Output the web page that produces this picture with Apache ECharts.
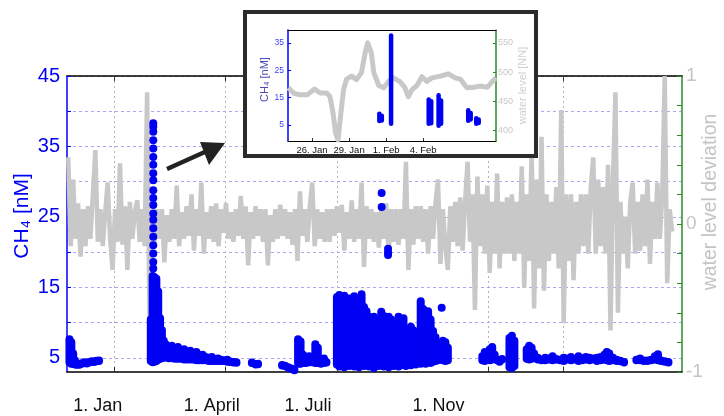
<!DOCTYPE html>
<html style="height: 100%">
<head>
    <meta charset="utf-8">
    <script src="https://cdn.jsdelivr.net/npm/echarts@6/dist/echarts.min.js"></script>
</head>
<body style="height: 100%; margin: 0; background: #fff">
    <div id="main" style="width: 724px; height: 416px;"></div>
    <script type="text/javascript">
        // x values are days counted from 1 Jan
        var monthTicks = [0, 90, 181, 304, 365];
        var monthLabelTicks = [0, 90, 181, 304];
        var monthNames = { 0: '1. Jan', 90: '1. April', 181: '1. Juli', 304: '1. Nov' };

        var ch4GridTicks = [5, 10, 15, 20, 25, 30, 35, 40, 45];
        var ch4LabelTicks = [5, 15, 25, 35, 45];
        var levelGridTicks = [-1, -0.8, -0.6, -0.4, -0.2, 0, 0.2, 0.4, 0.6, 0.8, 1];
        var levelLabelTicks = [-1, 0, 1];

        // water level deviation [day, value]
        var levelDeviation = [
            [-37, 0.45], [-35, -0.15], [-33, 0.3], [-31, -0.1], [-29, 0.14], [-27, -0.22], [-25, 0.1], [-23, -0.15], [-21, 0.12], [-19, -0.1],
            [-17, 0.2], [-15, 0.5], [-13, -0.12], [-11, 0.1], [-9, -0.15], [-7, 0.08], [-5, 0.28], [-3, -0.1], [-1, -0.31], [1, 0.1],
            [3, -0.12], [5, 0.41], [7, -0.14], [9, 0.12], [11, -0.31], [13, 0.15], [15, -0.1], [17, 0.08], [19, 0.16], [21, -0.12],
            [23, 0.1], [25, -0.15], [27, 0.89], [29, -0.67], [31, 0.08], [33, -0.12], [35, 0.1], [37, -0.1], [39, 0.1], [41, -0.26],
            [43, 0.06], [45, -0.12], [47, 0.1], [49, -0.1], [51, 0.26], [53, -0.15], [55, 0.08], [57, -0.1], [59, 0.12], [61, -0.08],
            [63, 0.2], [65, -0.18], [67, 0.1], [69, -0.08], [71, 0.28], [73, -0.2], [75, 0.08], [77, -0.1], [79, 0.12], [81, -0.12],
            [83, 0.14], [85, -0.15], [87, 0.1], [89, -0.06], [91, 0.14], [93, -0.1], [95, 0.08], [97, -0.12], [99, 0.1], [101, -0.08],
            [103, 0.19], [105, -0.1], [107, 0.12], [109, -0.28], [111, 0.08], [113, -0.1], [115, 0.12], [117, -0.08], [119, 0.1], [121, -0.12],
            [123, 0.1], [125, -0.28], [127, 0.06], [129, -0.12], [131, 0.1], [133, -0.1], [135, 0.13], [137, -0.08], [139, 0.1], [141, -0.1],
            [143, 0.08], [145, -0.14], [147, 0.1], [149, -0.25], [151, 0.22], [153, -0.08], [155, 0.1], [157, -0.12], [159, 0.12], [161, 0.28],
            [163, -0.15], [165, 0.1], [167, -0.1], [169, 0.08], [171, -0.12], [173, 0.1], [175, -0.12], [177, 0.1], [179, -0.08], [181, 0.12],
            [183, -0.06], [185, 0.13], [187, -0.18], [189, 0.08], [191, -0.1], [193, 0.16], [195, -0.12], [197, 0.1], [199, -0.1], [201, 0.28],
            [203, -0.29], [205, 0.12], [207, -0.1], [209, 0.1], [211, -0.12], [213, 0.08], [215, -0.16], [217, 0.1], [219, -0.1], [221, 0.14],
            [223, -0.2], [225, 0.1], [227, -0.12], [229, 0.1], [231, -0.14], [233, 0.1], [235, -0.1], [237, 0.42], [239, -0.31], [241, 0.1],
            [243, -0.14], [245, 0.12], [247, -0.1], [249, 0.12], [251, -0.12], [253, 0.1], [255, -0.2], [257, 0.12], [259, -0.1], [261, 0.14],
            [263, 0.3], [265, -0.27], [267, 0.1], [269, -0.15], [271, -0.31], [273, 0.12], [275, -0.12], [277, 0.15], [279, -0.15], [281, 0.18],
            [283, -0.18], [285, 0.15], [287, 0.42], [289, -0.12], [291, 0.2], [293, -0.58], [295, 0.32], [297, -0.15], [299, 0.2], [301, -0.2],
            [303, 0.26], [305, -0.33], [307, 0.15], [309, -0.2], [311, 0.34], [313, -0.3], [315, 0.15], [317, -0.2], [319, 0.18], [321, -0.2],
            [323, 0.2], [325, -0.25], [327, 0.15], [329, -0.2], [331, 0.39], [333, -0.43], [335, 0.2], [337, -0.25], [339, 0.5], [341, -0.57],
            [343, 0.3], [345, -0.3], [347, 0.59], [349, -0.45], [351, 0.2], [353, -0.25], [355, 0.15], [357, -0.2], [359, 0.25], [361, -0.3],
            [363, 0.77], [365, -0.67], [367, 0.2], [369, -0.25], [371, 0.2], [373, -0.38], [375, 0.15], [377, -0.2], [379, 0.2], [381, -0.15],
            [383, 0.2], [385, -0.2], [387, 0.25], [389, 0.45], [391, -0.2], [393, 0.3], [395, -0.15], [397, 0.25], [399, -0.2], [401, 0.4],
            [403, -0.72], [405, 0.3], [407, 0.89], [409, -0.6], [411, 0.15], [413, -0.2], [415, 0.05], [417, -0.3], [419, 0.15], [421, 0.28],
            [423, -0.2], [425, 0.15], [427, -0.18], [429, 0.2], [431, -0.15], [433, 0.3], [435, -0.27], [437, 0.15], [439, -0.1], [441, 0.28],
            [443, -0.1], [445, 0.2], [447, 1.0], [449, -0.4], [451, 0.1], [453, -0.05]
        ];

        // CH4 measurements, dense stretches as [day, lowest, highest] in nM
        var ch4Ranges = [
            [-36, 3.8, 8.2], [-34.5, 3.6, 7.8], [-33, 3.6, 6.2], [-31.5, 3.5, 5.2], [-30, 3.5, 4.6], [-28, 3.6, 4.5], [-26, 3.7, 4.7],
            [-24, 3.8, 4.9], [-22, 3.7, 4.8], [-20, 3.8, 5.0], [-18, 3.9, 5.1], [-16, 3.9, 5.0], [-14, 4.0, 5.1], [-12, 4.0, 5.2],
            [30, 4.0, 11], [31.5, 3.8, 17.2], [33, 3.9, 17.0], [34.5, 4.0, 16.8], [36, 4.2, 15], [37.5, 4.3, 11.2], [39, 4.4, 9.5], [40.5, 4.6, 8],
            [42, 4.5, 7.5], [44.5, 4.4, 7.0], [47, 4.4, 7.3], [49.5, 4.3, 6.8], [52, 4.3, 7.1], [54.5, 4.3, 6.5], [57, 4.2, 6.8], [59.5, 4.2, 6.3],
            [62, 4.2, 6.6], [64.5, 4.2, 6.1], [67, 4.1, 6.4], [69.5, 4.1, 5.9], [72, 4.1, 6.0], [74.5, 4.1, 5.7], [77, 4.0, 5.6], [79.5, 4.0, 5.7],
            [82, 4.0, 5.4], [84.5, 4.0, 5.5], [87, 4.0, 5.3], [89.5, 4.0, 5.2], [92, 3.9, 5.3], [94.5, 3.9, 5.0], [97, 3.9, 4.9], [99.5, 4.0, 4.7],
            [112, 3.7, 4.9], [115, 3.6, 4.6], [117, 3.8, 4.5],
            [136.5, 3.5, 4.4], [139, 3.4, 4.3], [141.5, 3.2, 4.1], [144, 3.0, 3.9], [146.5, 2.9, 3.7],
            [149.5, 3.6, 8.2], [151.5, 3.6, 7.9], [153.5, 3.7, 6.0], [156, 3.7, 5.6], [158.5, 3.8, 5.8], [161, 3.8, 5.4], [163.5, 3.7, 7.5],
            [165.5, 3.7, 7.0], [168, 3.6, 5.2], [170.5, 3.7, 5.5], [172.5, 3.8, 5.0],
            [181, 3.5, 14.2], [183, 3.2, 14.5], [185, 3.4, 13.8], [187, 3.1, 14.4], [189, 3.5, 12.5], [191, 3.3, 14.0], [193, 3.6, 13.2],
            [195, 3.2, 14.3], [197, 3.4, 11.8], [199, 3.1, 13.5], [201, 3.5, 14.6], [203, 3.3, 12.8], [205, 3.6, 12.2], [207, 3.2, 11.4],
            [209, 3.4, 10.6], [211, 3.0, 11.4], [213, 3.5, 10.8], [215, 3.3, 11.0], [217, 3.6, 12.1], [219, 3.2, 11.5], [221, 3.4, 10.2],
            [223, 3.1, 11.4], [225, 3.5, 11.0], [227, 3.3, 10.5], [229, 3.6, 9.8], [231, 3.2, 11.4], [233, 3.4, 10.6], [235, 3.5, 11.2],
            [237, 3.3, 9.6], [239, 3.6, 8.8], [241, 3.4, 10.0], [243, 3.7, 9.5], [245, 3.5, 8.2], [247, 3.8, 7.6], [249, 3.6, 13.6],
            [251, 3.8, 12.5], [253, 3.6, 10.8], [255, 3.9, 12.2], [257, 3.7, 11.0], [259, 3.9, 9.4], [261, 4.0, 8.5], [263, 4.1, 6.5],
            [267, 4.1, 8.0], [269, 4.0, 7.8], [271, 4.1, 7.0],
            [299, 4.1, 5.8], [301, 4.0, 6.4], [303, 4.2, 5.5], [305, 4.1, 6.8], [307, 4.2, 7.1], [309, 4.3, 6.0], [311, 4.2, 5.2],
            [313, 4.1, 4.9], [315, 4.2, 5.4], [321, 3.1, 8.4], [323, 3.0, 8.7], [325, 3.3, 8.0],
            [335, 4.3, 6.8], [337, 4.2, 7.3], [339, 4.3, 7.0], [341, 4.4, 6.2], [344, 4.2, 5.6], [347, 4.2, 5.2], [350, 4.1, 5.6],
            [353, 4.2, 5.5], [356, 4.1, 5.8], [359, 4.2, 5.4], [362, 4.1, 5.3], [365, 4.0, 5.6], [368, 4.2, 5.5], [371, 4.1, 5.7],
            [374, 4.2, 5.4], [377, 4.0, 5.8], [380, 4.1, 5.5], [383, 4.2, 5.7], [386, 4.1, 5.6], [389, 4.2, 5.5], [392, 4.0, 5.6],
            [395, 4.1, 5.7], [398, 4.2, 6.0], [400, 4.1, 6.4], [402, 4.0, 6.2], [405, 4.1, 5.6], [408, 4.0, 5.3], [411, 4.1, 5.0], [414, 4.0, 4.8],
            [424, 4.2, 5.2], [427, 4.1, 5.5], [430, 4.0, 5.2], [433, 4.2, 5.0], [436, 4.1, 5.3], [439, 4.2, 5.8], [441.5, 4.1, 6.1],
            [444, 4.0, 5.2], [447, 4.1, 4.9], [450, 4.0, 4.8]
        ];

        // single CH4 samples [day, nM]
        var ch4Points = [
            [32, 38.3], [32, 37.8], [32, 37.1], [32, 35.9], [32, 34.7], [32, 33.5], [32, 32.4], [32, 31.2], [32, 30.2], [32, 28.8],
            [32, 27.7], [32, 26.7], [32, 25.5], [32, 24.6], [32, 23.4], [32, 22.2], [32, 21.0], [32, 19.8], [32, 18.6], [32, 17.7],
            [217.3, 28.4], [217.3, 26.4], [222.5, 20.5], [222.5, 20.0], [222.5, 19.6], [266, 12.1]
        ];

        // inset: 24 Jan - 10 Feb, day of year
        var insetDayTicks = [26, 29, 32, 35];
        var insetCh4Ticks = [5, 15, 25, 35];
        var insetLevelTicks = [400, 450, 500, 550];
        var insetLevel = [
            [24.08, 473], [24.5, 464], [25.0, 461], [25.6, 461], [26.2, 471], [26.65, 464], [27.2, 464], [27.45, 458], [27.7, 430],
            [27.9, 396], [28.1, 384], [28.3, 423], [28.55, 470], [28.8, 488], [29.2, 493], [29.6, 487], [30.0, 499], [30.3, 533],
            [30.5, 550], [30.8, 533], [31.0, 499], [31.4, 477], [31.8, 473], [32.2, 484], [32.6, 490], [33.1, 484], [33.5, 474],
            [33.8, 458], [34.1, 470], [34.5, 477], [34.9, 492], [35.3, 484], [35.7, 490], [36.4, 493], [37.05, 497], [37.6, 490],
            [38.0, 488], [38.55, 473], [39.1, 474], [39.6, 476], [40.2, 474], [40.6, 484], [40.9, 490]
        ];
        var insetCh4Ranges = [
            [31.45, 5.6, 9.9], [31.65, 5.8, 9.2], [32.4, 4.6, 38.6], [35.45, 4.6, 15.2], [35.65, 4.8, 14.5],
            [36.25, 3.9, 16.7], [36.45, 4.6, 14.8], [38.65, 5.7, 11.2], [38.85, 6.2, 10.2], [39.3, 4.6, 8.3], [39.5, 4.9, 7.8]
        ];

        var FONT = '"Liberation Sans", Arial, sans-serif';
        var BLUE = '#0000f2';
        var GRAY = '#c8c8c8';
        var GREEN = '#2b8a2b';

        // vertical streak of overlapping dots between lowest and highest value
        function rangeItem(width) {
            return function (params, api) {
                var top = api.coord([api.value(0), api.value(2)]);
                var bot = api.coord([api.value(0), api.value(1)]);
                var r = width / 2;
                var y1 = top[1] + r, y2 = bot[1] - r;
                if (y2 - y1 < 0.5) {
                    var m = (y1 + y2) / 2;
                    y1 = m - 0.25;
                    y2 = m + 0.25;
                }
                return {
                    type: 'line',
                    shape: { x1: top[0], y1: y1, x2: top[0], y2: y2 },
                    style: { stroke: BLUE, lineWidth: width, lineCap: 'round' }
                };
            };
        }

        var myChart = echarts.init(document.getElementById('main'));
        var option = {
            animation: false,
            backgroundColor: '#fff',
            textStyle: { fontFamily: FONT },
            grid: [
                { left: 67, right: 42, top: 76, bottom: 44, outerBoundsMode: 'none', containLabel: false },
                { left: 288, top: 30, width: 208, height: 111, z: 60, outerBoundsMode: 'none', containLabel: false }
            ],
            xAxis: [{
                type: 'value', gridIndex: 0, position: 'bottom', min: -38, max: 461,
                axisLine: { onZero: false, lineStyle: { color: '#000', width: 1.5 } },
                axisTick: { inside: true, length: 5, customValues: monthTicks, lineStyle: { color: '#333' } },
                axisLabel: {
                    customValues: monthLabelTicks, margin: 25,
                    formatter: function (v) { return '{m' + v + '|' + monthNames[v] + '}'; },
                    rich: {
                        m0: { fontSize: 18, color: '#111', fontFamily: FONT, padding: [0, 32, 0, 0] },
                        m90: { fontSize: 18, color: '#111', fontFamily: FONT, padding: [0, 26, 0, 0] },
                        m181: { fontSize: 18, color: '#111', fontFamily: FONT, padding: [0, 58, 0, 0] },
                        m304: { fontSize: 18, color: '#111', fontFamily: FONT, padding: [0, 100, 0, 0] }
                    }
                },
                splitLine: { show: true, lineStyle: { color: '#b4b4b4', type: [2, 3] } }
            }, {
                type: 'value', gridIndex: 0, position: 'top', min: -38, max: 461,
                axisLine: { onZero: false, lineStyle: { color: '#000', width: 1.5 } },
                axisTick: { inside: true, length: 5, customValues: monthTicks, lineStyle: { color: '#333' } },
                axisLabel: { show: false },
                splitLine: { show: false }
            }, {
                type: 'value', gridIndex: 1, position: 'bottom', min: 24.05, max: 40.9, z: 60,
                axisLine: { onZero: false, lineStyle: { color: '#000', width: 1 } },
                axisTick: { inside: true, length: 3, customValues: insetDayTicks, lineStyle: { color: '#333' } },
                axisLabel: {
                    customValues: insetDayTicks, margin: 4, fontSize: 9.5, color: '#111',
                    formatter: function (v) { return v > 31 ? (v - 31) + '. Feb' : v + '. Jan'; }
                },
                splitLine: { show: false }
            }, {
                type: 'value', gridIndex: 1, position: 'top', min: 24.05, max: 40.9, z: 60,
                axisLine: { onZero: false, lineStyle: { color: '#000', width: 1 } },
                axisTick: { show: false },
                axisLabel: { show: false },
                splitLine: { show: false }
            }],
            yAxis: [{
                type: 'value', gridIndex: 0, position: 'left', min: 3, max: 45,
                name: 'CH₄ [nM]', nameLocation: 'middle', nameGap: 34, nameMoveOverlap: false,
                nameTextStyle: { color: BLUE, fontSize: 21, fontFamily: FONT, padding: [0, 0, 0, 16] },
                axisLine: { show: true, onZero: false, lineStyle: { color: '#0000ff', width: 1.5 } },
                axisTick: { show: true, inside: true, length: 4, customValues: ch4GridTicks, lineStyle: { color: '#0000ff' } },
                axisLabel: { customValues: ch4LabelTicks, color: BLUE, fontSize: 20, margin: 7 },
                splitLine: { show: true, lineStyle: { color: '#a8a8f0', type: [3, 3] } }
            }, {
                type: 'value', gridIndex: 0, position: 'right', min: -1, max: 1,
                name: 'water level deviation', nameLocation: 'middle', nameGap: 19, nameMoveOverlap: false,
                nameTextStyle: { color: '#c4c4c4', fontSize: 19.5, fontFamily: FONT, padding: [0, 0, 0, 44] },
                axisLine: { show: true, onZero: false, lineStyle: { color: GREEN, width: 1.5 } },
                axisTick: { show: true, inside: true, length: 5, customValues: levelGridTicks, lineStyle: { color: GREEN } },
                axisLabel: { customValues: levelLabelTicks, color: '#c4c4c4', fontSize: 19, margin: 4 },
                splitLine: { show: false }
            }, {
                type: 'value', gridIndex: 1, position: 'left', min: -0.85, max: 39.76, z: 60,
                name: 'CH₄ [nM]', nameLocation: 'middle', nameGap: 14,
                nameTextStyle: { color: '#4a4ab4', fontSize: 11, fontFamily: FONT, padding: [0, 0, 0, 12] },
                axisLine: { show: true, onZero: false, lineStyle: { color: '#0000ff', width: 1.5 } },
                axisTick: { show: true, inside: true, length: 3, customValues: insetCh4Ticks, lineStyle: { color: '#0000ff' } },
                axisLabel: { customValues: insetCh4Ticks, color: '#3c3cff', fontSize: 8.5, margin: 4 },
                splitLine: { show: false }
            }, {
                type: 'value', gridIndex: 1, position: 'right', min: 382, max: 572, z: 60,
                name: 'water level [NN]', nameLocation: 'middle', nameGap: 21,
                nameTextStyle: { color: '#cfcfcf', fontSize: 11, fontFamily: FONT },
                axisLine: { show: true, onZero: false, lineStyle: { color: GREEN, width: 1.5 } },
                axisTick: { show: true, inside: true, length: 3, customValues: insetLevelTicks, lineStyle: { color: GREEN } },
                axisLabel: { customValues: insetLevelTicks, color: '#c8c8c8', fontSize: 9, margin: 2 },
                splitLine: { show: false }
            }],
            graphic: {
                elements: [{
                    type: 'rect', z: 50,
                    shape: { x: 245, y: 12, width: 291, height: 144 },
                    style: { fill: '#fff', stroke: '#2b2b2b', lineWidth: 4 }
                }, {
                    type: 'line', z: 50,
                    shape: { x1: 167, y1: 169, x2: 207, y2: 151 },
                    style: { stroke: '#222', lineWidth: 4.5 }
                }, {
                    type: 'polygon', z: 50,
                    shape: { points: [[225, 143], [200, 142], [209, 165]] },
                    style: { fill: '#222' }
                }]
            },
            series: [{
                type: 'line', xAxisIndex: 0, yAxisIndex: 1, z: 2,
                data: levelDeviation, symbol: 'none',
                lineStyle: { color: GRAY, width: 4.5 }
            }, {
                type: 'custom', xAxisIndex: 0, yAxisIndex: 0, z: 3, clip: false,
                data: ch4Ranges, encode: { x: 0, y: [1, 2] },
                renderItem: rangeItem(8)
            }, {
                type: 'scatter', xAxisIndex: 0, yAxisIndex: 0, z: 3,
                data: ch4Points, symbolSize: 8,
                itemStyle: { color: BLUE, opacity: 1 }
            }, {
                type: 'line', xAxisIndex: 2, yAxisIndex: 3, z: 61,
                data: insetLevel, symbol: 'none',
                lineStyle: { color: GRAY, width: 5, join: 'round' }
            }, {
                type: 'custom', xAxisIndex: 2, yAxisIndex: 2, z: 62, clip: false,
                data: insetCh4Ranges, encode: { x: 0, y: [1, 2] },
                renderItem: rangeItem(4.5)
            }]
        };
        myChart.setOption(option);
    </script>
</body>
</html>
